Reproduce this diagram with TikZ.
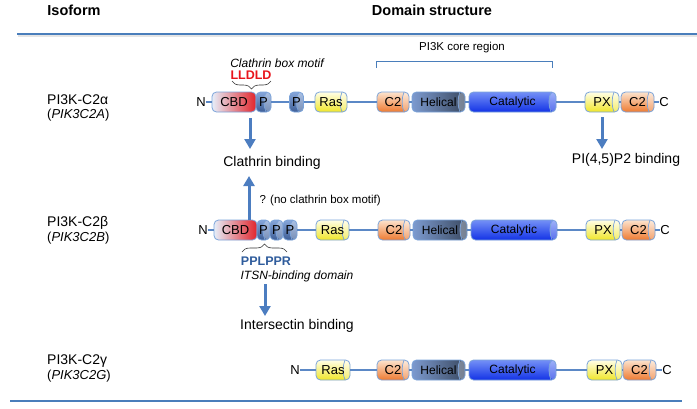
\documentclass[tikz,border=0pt]{standalone}
\usepackage{fontspec}
\setmainfont{Liberation Sans}
\usetikzlibrary{arrows.meta,decorations.pathreplacing}
\definecolor{lineblue}{HTML}{4A7EBB}
\definecolor{bbblue}{HTML}{5B88C6}
\definecolor{domborder}{HTML}{7BA3D9}
\definecolor{arrowblue}{HTML}{4C7DC0}
\definecolor{cbdL}{HTML}{E6EEF9}
\definecolor{cbdM}{HTML}{F2A3A8}
\definecolor{cbdR}{HTML}{E2242B}
\definecolor{pT}{HTML}{86A6DA}
\definecolor{pB}{HTML}{3E5E96}
\definecolor{yT}{HTML}{FFFEE8}
\definecolor{yB}{HTML}{F0E628}
\definecolor{oT}{HTML}{FCE3CE}
\definecolor{oB}{HTML}{EE7A30}
\definecolor{hL}{HTML}{7C9ACF}
\definecolor{hR}{HTML}{3B4A62}
\definecolor{cT}{HTML}{7490F6}
\definecolor{cB}{HTML}{1232E6}
\definecolor{motifred}{HTML}{E8141B}
\definecolor{motifblue}{HTML}{2F5C9C}
\tikzset{
  f14/.style={font=\fontsize{14}{16}\selectfont},
  f13/.style={font=\fontsize{13}{15}\selectfont},
  f12/.style={font=\fontsize{12}{14}\selectfont},
  domcore/.style={draw=domborder, line width=0.8pt, rounded corners=4.5pt,
    minimum height=20pt, inner sep=0pt, font=\fontsize{13}{15}\selectfont},
  dom/.style={domcore, path picture={
      \fill[white, opacity=0.3] ([xshift=-5pt]path picture bounding box.north east)
        .. controls ([xshift=-7.5pt,yshift=-6pt]path picture bounding box.north east)
        and ([xshift=-7.5pt,yshift=6pt]path picture bounding box.south east)
        .. ([xshift=-5pt]path picture bounding box.south east)
        -- (path picture bounding box.south east) -- (path picture bounding box.north east) -- cycle;
      \draw[domborder, line width=0.7pt] ([xshift=-5pt]path picture bounding box.north east)
        .. controls ([xshift=-7.5pt,yshift=-6pt]path picture bounding box.north east)
        and ([xshift=-7.5pt,yshift=6pt]path picture bounding box.south east)
        .. ([xshift=-5pt]path picture bounding box.south east);}},
  cbd/.style={domcore, left color=cbdL, middle color=cbdM, right color=cbdR},
  pdom/.style={dom, top color=pT, bottom color=pB},
  ydom/.style={dom, top color=yT, bottom color=yB},
  odom/.style={dom, top color=oT, bottom color=oB},
  hdom/.style={dom, left color=hL, right color=hR, font=\fontsize{12}{14}\selectfont},
  cdom/.style={dom, top color=cT, bottom color=cB, font=\fontsize{12}{14}\selectfont},
  term/.style={f13, inner sep=0pt},
  bb/.style={bbblue, line width=1.6pt},
  bigarrow/.style={arrowblue, line width=3pt, -{Triangle[width=11pt,length=10pt]}},
  bracedraw/.style={decorate, black!80, line width=0.6pt},
  hline/.style={lineblue, line width=2.6pt},
  hshadow/.style={black!10, line width=3pt},
}
\begin{document}
\begin{tikzpicture}[x=1pt,y=-1pt]
\useasboundingbox (0,0) rectangle (697,408);

% header
\node[f14, font=\fontsize{14.5}{16}\selectfont\bfseries] (hiso) at (74,10) {Isoform};
\node[f14, font=\fontsize{14.5}{16}\selectfont\bfseries] (hdom) at (432,10) {Domain structure};
\coordinate (tl1) at (17,34); \coordinate (tl2) at (697,34);
\coordinate (ts1) at (18,35.8); \coordinate (ts2) at (697,35.8);
\draw[hshadow] (ts1) -- (ts2);
\draw[hline] (tl1) -- (tl2);
\coordinate (bl1) at (10,401); \coordinate (bl2) at (682,401);
\draw[hline] (bl1) -- (bl2);

% isoform labels
\node[f14, anchor=west, inner sep=0pt] (iso1) at (47,100) {PI3K-C2α};
\node[f13, anchor=west, inner sep=0pt] (gene1) at (47,115) {(\textit{PIK3C2A})};
\node[f14, anchor=west, inner sep=0pt] (iso2) at (47,223) {PI3K-C2β};
\node[f13, anchor=west, inner sep=0pt] (gene2) at (47,238) {(\textit{PIK3C2B})};
\node[f14, anchor=west, inner sep=0pt] (iso3) at (47,361) {PI3K-C2γ};
\node[f13, anchor=west, inner sep=0pt] (gene3) at (47,376) {(\textit{PIK3C2G})};

% ---------- row 1 ----------
\node[term] (n1) at (201,102) {N};
\node[cbd, minimum width=44pt] (cbd1) at (234,102) {CBD};
\node[pdom, minimum width=15pt] (p1a) at (263.5,102) {P};
\node[pdom, minimum width=14pt] (p1b) at (296.5,102) {P};
\node[ydom, minimum width=32pt] (ras1) at (331,102) {Ras};
\node[odom, minimum width=32pt] (c2a1) at (393,102) {C2};
\node[hdom, minimum width=53pt] (hel1) at (438.5,102) {Helical};
\node[cdom, minimum width=87pt] (cat1) at (512.5,102) {Catalytic};
\node[ydom, minimum width=34pt] (px1) at (602,102) {PX};
\node[odom, minimum width=33pt] (c2b1) at (637.5,102) {C2};
\node[term] (c1) at (664,102) {C};
\draw[bb] (n1) -- (cbd1);
\draw[bb] (p1a) -- (p1b);
\draw[bb] (p1b) -- (ras1);
\draw[bb] (ras1) -- (c2a1);
\draw[bb] (c2a1) -- (hel1);
\draw[bb] (hel1) -- (cat1);
\draw[bb] (cat1) -- (px1);
\draw[bb] (px1) -- (c2b1);
\draw[bb] (c2b1) -- (c1);

\node[f12, font=\fontsize{12}{14}\selectfont\itshape] (cbm) at (277,63) {Clathrin box motif};
\node[f12, font=\fontsize{12.5}{14}\selectfont\bfseries, text=motifred] (lldld) at (251,75) {LLDLD};
\coordinate (br1a) at (232,81); \coordinate (br1b) at (271,81);
\draw[bracedraw, decoration={brace, amplitude=8pt, mirror}] (br1a) -- (br1b);

\node[font=\fontsize{11.5}{13}\selectfont] (core) at (462,48) {PI3K core region};
\coordinate (k1) at (376,68); \coordinate (k2) at (376,61);
\coordinate (k3) at (552,61); \coordinate (k4) at (552,68);
\draw[lineblue, line width=0.9pt] (k1) -- (k2) -- (k3) -- (k4);

\node[f14] (clath) at (272,163) {Clathrin binding};
\coordinate (a1s) at (250,118); \coordinate (a1e) at (250,149);
\draw[bigarrow] (a1s) -- (a1e);

\node[f14] (pip) at (626,160) {PI(4,5)P2 binding};
\coordinate (a2s) at (602,117); \coordinate (a2e) at (602,149);
\draw[bigarrow] (a2s) -- (a2e);

% ---------- row 2 ----------
\node[term] (n2) at (203,230) {N};
\node[cbd, minimum width=43pt] (cbd2) at (235.5,230) {CBD};
\node[pdom, minimum width=13pt] (p2a) at (263.5,230) {P};
\node[pdom, minimum width=13pt] (p2b) at (276.5,230) {P};
\node[pdom, minimum width=14pt] (p2c) at (290,230) {P};
\node[ydom, minimum width=33pt] (ras2) at (332.5,230) {Ras};
\node[odom, minimum width=32pt] (c2a2) at (394,230) {C2};
\node[hdom, minimum width=54pt] (hel2) at (440,230) {Helical};
\node[cdom, minimum width=86pt] (cat2) at (514,230) {Catalytic};
\node[ydom, minimum width=34pt] (px2) at (603,230) {PX};
\node[odom, minimum width=33pt] (c2b2) at (638.5,230) {C2};
\node[term] (c2) at (665,230) {C};
\draw[bb] (n2) -- (cbd2);
\draw[bb] (p2c) -- (ras2);
\draw[bb] (ras2) -- (c2a2);
\draw[bb] (c2a2) -- (hel2);
\draw[bb] (hel2) -- (cat2);
\draw[bb] (cat2) -- (px2);
\draw[bb] (px2) -- (c2b2);
\draw[bb] (c2b2) -- (c2);

\coordinate (a3s) at (249,220); \coordinate (a3e) at (249,176);
\draw[bigarrow] (a3s) -- (a3e);
\node[font=\fontsize{11.5}{13}\selectfont, anchor=west] (noclath) at (256,201) {? (no clathrin box motif)};

\coordinate (br2a) at (242,252); \coordinate (br2b) at (287,252);
\draw[bracedraw, decoration={brace, amplitude=8pt}] (br2a) -- (br2b);
\node[font=\fontsize{12.5}{14}\selectfont\bfseries, text=motifblue] (pplppr) at (266,261) {PPLPPR};
\node[font=\fontsize{12}{14}\selectfont\itshape] (itsn) at (297,276) {ITSN-binding domain};
\coordinate (a4s) at (265,284); \coordinate (a4e) at (265,316);
\draw[bigarrow] (a4s) -- (a4e);
\node[f14] (intersectin) at (297,326) {Intersectin binding};

% ---------- row 3 ----------
\node[term] (n3) at (295,370) {N};
\node[ydom, minimum width=34pt] (ras3) at (333,370) {Ras};
\node[odom, minimum width=32pt] (c2a3) at (393,370) {C2};
\node[hdom, minimum width=53pt] (hel3) at (438.5,370) {Helical};
\node[cdom, minimum width=87pt] (cat3) at (512.5,370) {Catalytic};
\node[ydom, minimum width=35pt] (px3) at (604.5,370) {PX};
\node[odom, minimum width=33pt] (c2b3) at (639.5,370) {C2};
\node[term] (c3) at (667,370) {C};
\draw[bb] (n3) -- (ras3);
\draw[bb] (ras3) -- (c2a3);
\draw[bb] (c2a3) -- (hel3);
\draw[bb] (hel3) -- (cat3);
\draw[bb] (cat3) -- (px3);
\draw[bb] (px3) -- (c2b3);
\draw[bb] (c2b3) -- (c3);
\end{tikzpicture}
\end{document}
